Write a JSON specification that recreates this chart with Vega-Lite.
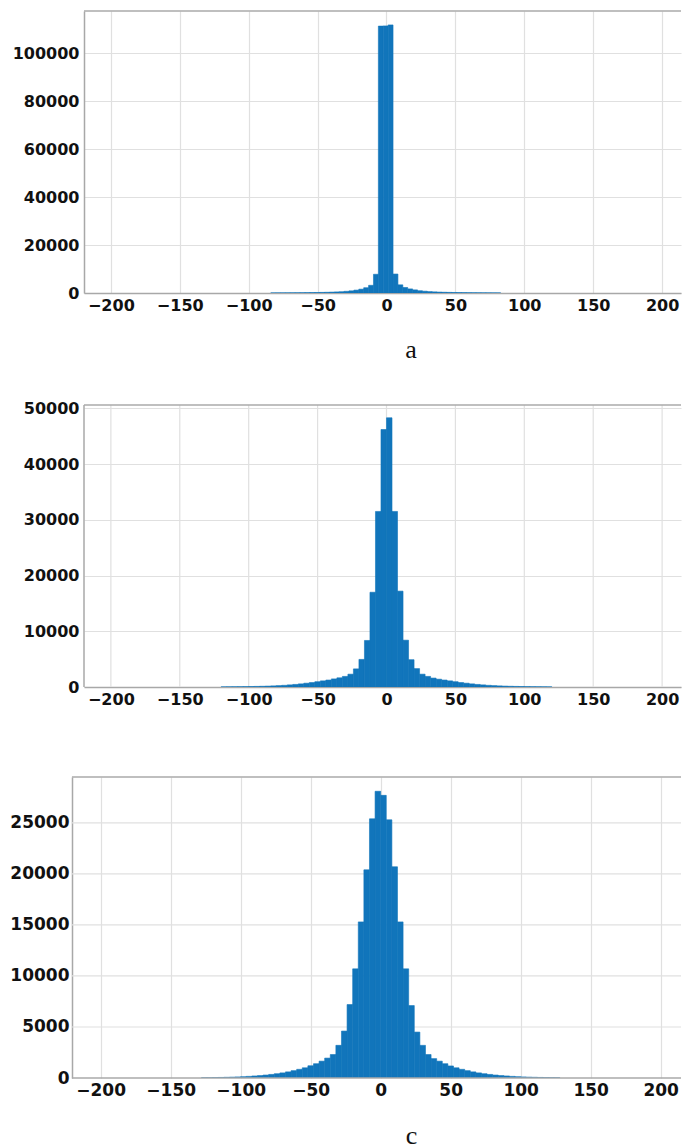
{
  "$schema": "https://vega.github.io/schema/vega-lite/v6.json",
  "background": "white",
  "padding": {"left": 9, "top": 10, "right": 0, "bottom": 0},
  "bounds": "flush",
  "spacing": 90,
  "config": {
    "view": {"stroke": null},
    "rect": {"color": "#1175bb", "stroke": "#1175bb", "strokeWidth": 0.6},
    "axis": {
      "labelFont": "DejaVu Sans",
      "labelFontWeight": "bold",
      "labelFontSize": 16,
      "labelColor": "#111111",
      "ticks": false,
      "gridColor": "#e0e0e0",
      "gridWidth": 1.2,
      "domainColor": "#a8a8a8",
      "domainWidth": 1.5,
      "titleFont": "Liberation Serif",
      "titleFontSize": 26,
      "titleFontWeight": "normal",
      "titleColor": "#111111"
    }
  },
  "datasets": {
    "a": [
      {"lo": -84.0, "hi": -80.45, "n": 40}, {"lo": -80.45, "hi": -76.9, "n": 50}, {"lo": -76.9, "hi": -73.35, "n": 60},
      {"lo": -73.35, "hi": -69.8, "n": 70}, {"lo": -69.8, "hi": -66.25, "n": 85}, {"lo": -66.25, "hi": -62.7, "n": 100},
      {"lo": -62.7, "hi": -59.15, "n": 120}, {"lo": -59.15, "hi": -55.6, "n": 150}, {"lo": -55.6, "hi": -52.05, "n": 180},
      {"lo": -52.05, "hi": -48.5, "n": 210}, {"lo": -48.5, "hi": -44.95, "n": 250}, {"lo": -44.95, "hi": -41.4, "n": 300},
      {"lo": -41.4, "hi": -37.85, "n": 370}, {"lo": -37.85, "hi": -34.3, "n": 450}, {"lo": -34.3, "hi": -30.75, "n": 550},
      {"lo": -30.75, "hi": -27.2, "n": 700}, {"lo": -27.2, "hi": -23.65, "n": 900}, {"lo": -23.65, "hi": -20.1, "n": 1200},
      {"lo": -20.1, "hi": -16.55, "n": 1600}, {"lo": -16.55, "hi": -13.0, "n": 2200}, {"lo": -13.0, "hi": -9.45, "n": 3200},
      {"lo": -9.45, "hi": -5.9, "n": 7800}, {"lo": -5.9, "hi": -2.35, "n": 111200}, {"lo": -2.35, "hi": 1.2, "n": 111300},
      {"lo": 1.2, "hi": 4.75, "n": 111700}, {"lo": 4.75, "hi": 8.3, "n": 7900}, {"lo": 8.3, "hi": 11.85, "n": 3400},
      {"lo": 11.85, "hi": 15.4, "n": 2300}, {"lo": 15.4, "hi": 18.95, "n": 1700}, {"lo": 18.95, "hi": 22.5, "n": 1300},
      {"lo": 22.5, "hi": 26.05, "n": 950}, {"lo": 26.05, "hi": 29.6, "n": 750}, {"lo": 29.6, "hi": 33.15, "n": 580},
      {"lo": 33.15, "hi": 36.7, "n": 470}, {"lo": 36.7, "hi": 40.25, "n": 380}, {"lo": 40.25, "hi": 43.8, "n": 310},
      {"lo": 43.8, "hi": 47.35, "n": 260}, {"lo": 47.35, "hi": 50.9, "n": 220}, {"lo": 50.9, "hi": 54.45, "n": 185},
      {"lo": 54.45, "hi": 58.0, "n": 155}, {"lo": 58.0, "hi": 61.55, "n": 125}, {"lo": 61.55, "hi": 65.1, "n": 105},
      {"lo": 65.1, "hi": 68.65, "n": 90}, {"lo": 68.65, "hi": 72.2, "n": 75}, {"lo": 72.2, "hi": 75.75, "n": 62},
      {"lo": 75.75, "hi": 79.3, "n": 52}, {"lo": 79.3, "hi": 82.85, "n": 42}
    ],
    "b": [
      {"lo": -120, "hi": -116, "n": 25}, {"lo": -116, "hi": -112, "n": 35}, {"lo": -112, "hi": -108, "n": 45},
      {"lo": -108, "hi": -104, "n": 55}, {"lo": -104, "hi": -100, "n": 70}, {"lo": -100, "hi": -96, "n": 85},
      {"lo": -96, "hi": -92, "n": 105}, {"lo": -92, "hi": -88, "n": 130}, {"lo": -88, "hi": -84, "n": 160},
      {"lo": -84, "hi": -80, "n": 200}, {"lo": -80, "hi": -76, "n": 250}, {"lo": -76, "hi": -72, "n": 300},
      {"lo": -72, "hi": -68, "n": 380}, {"lo": -68, "hi": -64, "n": 460}, {"lo": -64, "hi": -60, "n": 560},
      {"lo": -60, "hi": -56, "n": 680}, {"lo": -56, "hi": -52, "n": 800}, {"lo": -52, "hi": -48, "n": 950},
      {"lo": -48, "hi": -44, "n": 1100}, {"lo": -44, "hi": -40, "n": 1250}, {"lo": -40, "hi": -36, "n": 1450},
      {"lo": -36, "hi": -32, "n": 1650}, {"lo": -32, "hi": -28, "n": 1900}, {"lo": -28, "hi": -24, "n": 2300},
      {"lo": -24, "hi": -20, "n": 3250}, {"lo": -20, "hi": -16, "n": 4950}, {"lo": -16, "hi": -12, "n": 8350},
      {"lo": -12, "hi": -8, "n": 17000}, {"lo": -8, "hi": -4, "n": 31500}, {"lo": -4, "hi": 0, "n": 46200},
      {"lo": 0, "hi": 4, "n": 48300}, {"lo": 4, "hi": 8, "n": 31500}, {"lo": 8, "hi": 12, "n": 17200},
      {"lo": 12, "hi": 16, "n": 8400}, {"lo": 16, "hi": 20, "n": 4900}, {"lo": 20, "hi": 24, "n": 3300},
      {"lo": 24, "hi": 28, "n": 2300}, {"lo": 28, "hi": 32, "n": 1900}, {"lo": 32, "hi": 36, "n": 1600},
      {"lo": 36, "hi": 40, "n": 1400}, {"lo": 40, "hi": 44, "n": 1250}, {"lo": 44, "hi": 48, "n": 1100},
      {"lo": 48, "hi": 52, "n": 950}, {"lo": 52, "hi": 56, "n": 800}, {"lo": 56, "hi": 60, "n": 680},
      {"lo": 60, "hi": 64, "n": 560}, {"lo": 64, "hi": 68, "n": 460}, {"lo": 68, "hi": 72, "n": 380},
      {"lo": 72, "hi": 76, "n": 300}, {"lo": 76, "hi": 80, "n": 250}, {"lo": 80, "hi": 84, "n": 200},
      {"lo": 84, "hi": 88, "n": 160}, {"lo": 88, "hi": 92, "n": 130}, {"lo": 92, "hi": 96, "n": 105},
      {"lo": 96, "hi": 100, "n": 85}, {"lo": 100, "hi": 104, "n": 70}, {"lo": 104, "hi": 108, "n": 55},
      {"lo": 108, "hi": 112, "n": 45}, {"lo": 112, "hi": 116, "n": 35}, {"lo": 116, "hi": 120, "n": 25}
    ],
    "c": [
      {"lo": -128, "hi": -124, "n": 28}, {"lo": -124, "hi": -120, "n": 35}, {"lo": -120, "hi": -116, "n": 45},
      {"lo": -116, "hi": -112, "n": 55}, {"lo": -112, "hi": -108, "n": 70}, {"lo": -108, "hi": -104, "n": 85},
      {"lo": -104, "hi": -100, "n": 105}, {"lo": -100, "hi": -96, "n": 130}, {"lo": -96, "hi": -92, "n": 160},
      {"lo": -92, "hi": -88, "n": 200}, {"lo": -88, "hi": -84, "n": 240}, {"lo": -84, "hi": -80, "n": 290},
      {"lo": -80, "hi": -76, "n": 350}, {"lo": -76, "hi": -72, "n": 420}, {"lo": -72, "hi": -68, "n": 500},
      {"lo": -68, "hi": -64, "n": 600}, {"lo": -64, "hi": -60, "n": 720}, {"lo": -60, "hi": -56, "n": 850},
      {"lo": -56, "hi": -52, "n": 1000}, {"lo": -52, "hi": -48, "n": 1200}, {"lo": -48, "hi": -44, "n": 1400},
      {"lo": -44, "hi": -40, "n": 1650}, {"lo": -40, "hi": -36, "n": 1950}, {"lo": -36, "hi": -32, "n": 2300},
      {"lo": -32, "hi": -28, "n": 3200}, {"lo": -28, "hi": -24, "n": 4600}, {"lo": -24, "hi": -20, "n": 7200},
      {"lo": -20, "hi": -16, "n": 10700}, {"lo": -16, "hi": -12, "n": 15300}, {"lo": -12, "hi": -8, "n": 20400},
      {"lo": -8, "hi": -4, "n": 25400}, {"lo": -4, "hi": 0, "n": 28100}, {"lo": 0, "hi": 4, "n": 27700},
      {"lo": 4, "hi": 8, "n": 25300}, {"lo": 8, "hi": 12, "n": 20700}, {"lo": 12, "hi": 16, "n": 15300},
      {"lo": 16, "hi": 20, "n": 10700}, {"lo": 20, "hi": 24, "n": 7100}, {"lo": 24, "hi": 28, "n": 4500},
      {"lo": 28, "hi": 32, "n": 3200}, {"lo": 32, "hi": 36, "n": 2300}, {"lo": 36, "hi": 40, "n": 1900},
      {"lo": 40, "hi": 44, "n": 1650}, {"lo": 44, "hi": 48, "n": 1400}, {"lo": 48, "hi": 52, "n": 1180},
      {"lo": 52, "hi": 56, "n": 1000}, {"lo": 56, "hi": 60, "n": 850}, {"lo": 60, "hi": 64, "n": 720},
      {"lo": 64, "hi": 68, "n": 600}, {"lo": 68, "hi": 72, "n": 500}, {"lo": 72, "hi": 76, "n": 420},
      {"lo": 76, "hi": 80, "n": 350}, {"lo": 80, "hi": 84, "n": 290}, {"lo": 84, "hi": 88, "n": 240},
      {"lo": 88, "hi": 92, "n": 200}, {"lo": 92, "hi": 96, "n": 160}, {"lo": 96, "hi": 100, "n": 130},
      {"lo": 100, "hi": 104, "n": 105}, {"lo": 104, "hi": 108, "n": 85}, {"lo": 108, "hi": 112, "n": 70},
      {"lo": 112, "hi": 116, "n": 55}, {"lo": 116, "hi": 120, "n": 45}, {"lo": 120, "hi": 124, "n": 35},
      {"lo": 124, "hi": 128, "n": 28}
    ],
    "xticks": [{"t": -200}, {"t": -150}, {"t": -100}, {"t": -50}, {"t": 0}, {"t": 50}, {"t": 100}, {"t": 150}, {"t": 200}],
    "cgrid": [{"g": 5000}, {"g": 10000}, {"g": 15000}, {"g": 20000}, {"g": 25000}],
    "cborder": [{"g": 0}, {"g": 29500}]
  },
  "vconcat": [
    {
      "width": 597,
      "height": 282,
      "layer": [
        {
          "data": {"name": "a"},
          "mark": {"type": "rect", "clip": true},
          "encoding": {
            "x": {"field": "lo", "type": "quantitative",
              "scale": {"domain": [-219.5, 213.7], "nice": false, "zero": false},
              "axis": {"values": [-200, -150, -100, -50, 0, 50, 100, 150, 200], "labelPadding": 4, "grid": true,
                "title": "a", "titleX": 326.5, "titleY": 64, "titleBaseline": "alphabetic", "titleAlign": "center"}},
            "x2": {"field": "hi"},
            "y": {"field": "n", "type": "quantitative",
              "scale": {"domain": [0, 117500], "nice": false},
              "axis": {"values": [0, 20000, 40000, 60000, 80000, 100000], "format": "d", "labelPadding": 5, "grid": true, "title": null}},
            "y2": {"datum": 0}
          }
        },
        {
          "data": {"values": [{"v": 117500}]},
          "mark": {"type": "rule", "color": "#aaaaaa", "strokeWidth": 1.5},
          "encoding": {
            "y": {"field": "v", "type": "quantitative", "scale": {"domain": [0, 117500], "nice": false}, "title": null}
          }
        }
      ]
    },
    {
      "width": 597,
      "height": 304,
      "layer": [
        {
          "data": {"name": "xticks"},
          "mark": {"type": "rule", "color": "#e0e0e0", "strokeWidth": 1.2},
          "encoding": {
            "x": {"field": "t", "type": "quantitative", "scale": {"domain": [-219.5, 213.7], "nice": false, "zero": false}, "title": null},
            "y": {"datum": 0, "type": "quantitative", "scale": {"domain": [0, 54546], "nice": false}},
            "y2": {"datum": 50600}
          }
        },
        {
          "data": {"name": "b"},
          "mark": {"type": "rect", "clip": true},
          "encoding": {
            "x": {"field": "lo", "type": "quantitative",
              "scale": {"domain": [-219.5, 213.7], "nice": false, "zero": false},
              "axis": {"values": [-200, -150, -100, -50, 0, 50, 100, 150, 200], "labelPadding": 4, "grid": false,
                "title": "b", "titleX": 326, "titleY": 66, "titleBaseline": "alphabetic", "titleAlign": "center"}},
            "x2": {"field": "hi"},
            "y": {"field": "n", "type": "quantitative",
              "scale": {"domain": [0, 54546], "nice": false},
              "axis": {"values": [0, 10000, 20000, 30000, 40000, 50000], "format": "d", "labelPadding": 5, "grid": true, "domain": false, "title": null}},
            "y2": {"datum": 0}
          }
        },
        {
          "data": {"values": [{"v": 50600}]},
          "mark": {"type": "rule", "color": "#aaaaaa", "strokeWidth": 1.5},
          "encoding": {
            "y": {"field": "v", "type": "quantitative", "scale": {"domain": [0, 54546], "nice": false}, "title": null}
          }
        },
        {
          "data": {"values": [{"v": -219.5}]},
          "mark": {"type": "rule", "color": "#a8a8a8", "strokeWidth": 1.5},
          "encoding": {
            "x": {"field": "v", "type": "quantitative", "scale": {"domain": [-219.5, 213.7], "nice": false, "zero": false}, "title": null},
            "y": {"datum": 0, "type": "quantitative", "scale": {"domain": [0, 54546], "nice": false}},
            "y2": {"datum": 50600}
          }
        }
      ]
    },
    {
      "width": 597,
      "height": 301,
      "layer": [
        {
          "data": {"name": "cgrid"},
          "mark": {"type": "rule", "color": "#e0e0e0", "strokeWidth": 1.2},
          "encoding": {
            "y": {"field": "g", "type": "quantitative", "scale": {"domain": [0, 29500], "nice": false}, "title": null},
            "x": {"datum": -220.5, "type": "quantitative", "scale": {"domain": [-211.9, 214.5], "nice": false, "zero": false}},
            "x2": {"datum": 214.5}
          }
        },
        {
          "data": {"name": "c"},
          "mark": {"type": "rect", "clip": true},
          "encoding": {
            "x": {"field": "lo", "type": "quantitative",
              "scale": {"domain": [-211.9, 214.5], "nice": false, "zero": false},
              "axis": {"values": [-200, -150, -100, -50, 0, 50, 100, 150, 200], "labelPadding": 4, "labelFontSize": 17, "grid": true, "domain": false,
                "title": "c", "titleX": 327, "titleY": 65, "titleBaseline": "alphabetic", "titleAlign": "center"}},
            "x2": {"field": "hi"},
            "y": {"field": "n", "type": "quantitative",
              "scale": {"domain": [0, 29500], "nice": false},
              "axis": {"values": [0, 5000, 10000, 15000, 20000, 25000], "format": "d", "labelPadding": 3, "labelFontSize": 17, "offset": 12, "grid": false, "title": null}},
            "y2": {"datum": 0}
          }
        },
        {
          "data": {"name": "cborder"},
          "mark": {"type": "rule", "color": "#aaaaaa", "strokeWidth": 1.5},
          "encoding": {
            "y": {"field": "g", "type": "quantitative", "scale": {"domain": [0, 29500], "nice": false}, "title": null},
            "x": {"datum": -220.5, "type": "quantitative", "scale": {"domain": [-211.9, 214.5], "nice": false, "zero": false}},
            "x2": {"datum": 214.5}
          }
        }
      ]
    }
  ]
}
